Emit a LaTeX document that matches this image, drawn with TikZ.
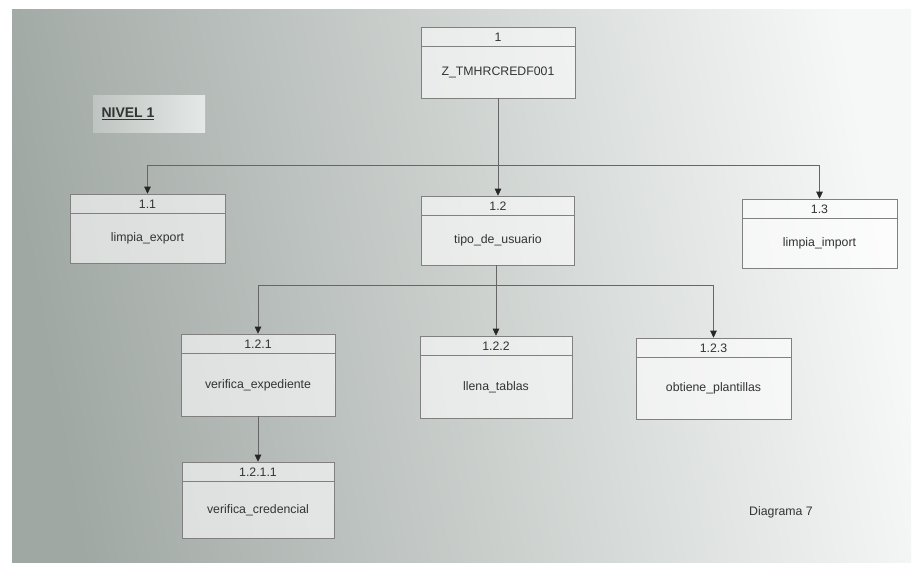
\documentclass[tikz,border=0pt]{standalone}
\usepackage{fontspec}
\setmainfont{Liberation Sans}
\usetikzlibrary{arrows.meta,calc,positioning}
\definecolor{bgdark}{RGB}{160,168,164}
\definecolor{bglight}{RGB}{246,248,247}
\definecolor{inkgray}{RGB}{50,52,52}

\begin{document}
\begin{tikzpicture}[x=1pt,y=-1pt,
	procbox/.style={draw=black!50,line width=0.6pt,fill=white,fill opacity=0.6,inner sep=0pt},
	boxtext/.style={font=\fontsize{12.3}{14}\selectfont,text=inkgray,inner sep=1pt},
	flow/.style={-{Triangle[width=6.5pt,length=7pt,color=black!85,fill=black!85]},draw=black!60,line width=0.6pt}]
	\useasboundingbox (0,0) rectangle (915,570);
	\fill[white] (0,0) rectangle (915,570);
	\shade[left color=bgdark,right color=bglight,shading angle=100] (12,9) rectangle (911,562);
	% heading
	\node[left color=bglight!35!bgdark,right color=bglight!80!bgdark,minimum width=112pt,minimum height=37pt,inner sep=0pt] (nivelbg) at (149,113.5) {};
	\node[font=\fontsize{14}{16}\bfseries,text=inkgray] (nivel) at (128,114) {\underline{NIVEL 1}};
	% process boxes
	\foreach \nm/\cx/\cy/\w/\h/\num/\txt in {
		b1/498/62.5/154/71/1/Z\_TMHRCREDF001,
		b11/147.5/228.5/155/69/1.1/limpia\_export,
		b12/498/230.5/153/69/1.2/tipo\_de\_usuario,
		b13/819.5/233.5/155/69/1.3/limpia\_import,
		b121/258/375/154/82/1.2.1/verifica\_expediente,
		b122/496/377/152/82/1.2.2/llena\_tablas,
		b123/713.5/378.5/155/81/1.2.3/obtiene\_plantillas,
		b1211/258/500/152/76/1.2.1.1/verifica\_credencial}{
		\node[procbox,minimum width=\w pt,minimum height=\h pt] (\nm) at (\cx,\cy) {};
		\draw[black!50,line width=0.6pt] ([yshift=-20pt]\nm.north west) -- ([yshift=-20pt]\nm.north east);
		\node[boxtext] (\nm-num) at ([yshift=-10.5pt]\nm.north) {\num};
		\node[boxtext] (\nm-txt) at ($(\nm.south)!0.5!([yshift=-20pt]\nm.north)$) {\txt};
	}
	% connectors
	\coordinate (split1) at (498,165);
	\coordinate (split12) at (496,285);
	\draw[flow] (b1.south) -- (b12.north);
	\draw[flow] (split1) -| (b11.north);
	\draw[flow] (split1) -| (b13.north);
	\draw[flow] (b12.south -| b122.north) -- (b122.north);
	\draw[flow] (split12) -| (b121.north);
	\draw[flow] (split12) -| (b123.north);
	\draw[flow] (b121.south) -- (b1211.north);
	\node[boxtext] (diagrama) at (781,512) {Diagrama 7};
\end{tikzpicture}
\end{document}
